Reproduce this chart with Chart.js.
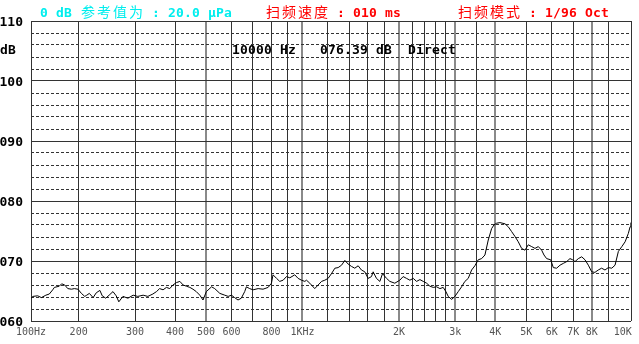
<!DOCTYPE html>
<html>
<head>
<meta charset="utf-8">
<script src="https://cdn.jsdelivr.net/npm/chart.js@4.4.1/dist/chart.umd.min.js"></script>
<style>
  html, body { margin: 0; padding: 0; background: #fff; }
  #wrap { width: 639px; height: 344px; }
</style>
</head>
<body>
<div id="wrap"><canvas id="sweepChart"></canvas></div>
<script>
// Sweep readings (Hz, dB)
const freqs = [
  142, 144, 149, 153, 158, 162, 166, 168, 174, 177, 181, 185, 190, 194, 199,
  204, 209, 212, 216, 222, 227, 233, 237, 243, 249, 256, 262, 267, 275, 285,
  296, 306, 318, 329, 341, 350, 358, 367, 376, 385, 394, 404, 414, 424, 434,
  445, 455, 466, 478, 489, 501, 520, 532, 552, 572, 586, 600, 614, 629, 644,
  660, 668, 684, 701, 727, 753, 781, 800, 809, 830, 849, 870, 891, 913, 946,
  969, 993, 1017, 1029, 1054, 1092, 1119, 1147, 1174, 1202, 1232, 1262, 1292,
  1324, 1356, 1388, 1422, 1456, 1492, 1528, 1565, 1603, 1642, 1662, 1702, 1744,
  1778, 1830, 1874, 1942, 2013, 2062, 2113, 2164, 2217, 2271, 2326, 2382, 2441,
  2499, 2560, 2623, 2686, 2750, 2804, 2851, 2922, 2992, 3064, 3139, 3214, 3292,
  3373, 3453, 3537, 3625, 3712, 3802, 3895, 3960, 4038, 4136, 4288, 4391, 4498,
  4606, 4718, 4833, 4950, 5070, 5194, 5320, 5449, 5582, 5676, 5785, 5958, 6069,
  6217, 6368, 6521, 6681, 6842, 6976, 7094, 7266, 7443, 7623, 7808, 7998, 8185,
  8384, 8590, 8800, 9014, 9238, 9460, 9690, 9932, 10170, 10410, 10540, 10600
];
const levels = [
  63.8, 64.1, 64.2, 63.9, 64.3, 64.5, 65.2, 65.6, 65.8, 66.2, 66.0, 65.4, 65.3, 65.4, 65.3,
  64.6, 64.1, 64.3, 64.6, 63.9, 64.7, 65.1, 64.2, 63.8, 64.3, 64.9, 64.2, 63.2, 64.1, 63.8,
  64.3, 64.1, 64.3, 64.1, 64.5, 64.9, 65.4, 65.2, 65.6, 65.4, 66.0, 66.4, 66.6, 66.0, 65.8,
  65.6, 65.3, 64.9, 64.3, 63.5, 64.9, 65.7, 65.4, 64.6, 64.3, 64.1, 64.3, 63.9, 63.5, 63.8,
  64.9, 65.7, 65.4, 65.2, 65.4, 65.3, 65.6, 66.3, 67.7, 67.1, 66.6, 66.8, 67.4, 67.2, 67.7,
  67.1, 66.8, 66.6, 66.8, 66.3, 65.4, 66.0, 66.6, 66.8, 67.1, 67.9, 68.8, 68.9,
  69.3, 70.1, 69.5, 69.1, 68.8, 69.2, 68.5, 68.2, 67.1, 67.4, 68.2, 67.1, 66.6,
  67.9, 67.1, 66.6, 66.3, 66.8, 67.4, 67.1, 66.8, 67.1, 66.6, 66.9, 66.6, 66.3,
  65.8, 65.6, 65.7, 65.4, 65.6, 64.9, 64.1, 63.6, 64.1, 64.9, 65.7, 66.6, 67.1,
  68.5, 69.2, 70.2, 70.4, 71.0, 73.5, 75.4, 76.0, 76.3, 76.4, 76.2, 75.7, 74.9,
  74.1, 73.2, 72.1, 71.8, 72.7, 72.4, 72.1, 72.4, 71.8, 71.0, 70.4, 70.2, 68.9,
  68.8, 69.3, 69.6, 69.9, 70.4, 70.2, 69.9, 70.4, 70.7, 70.2, 69.3, 68.2, 68.1,
  68.5, 68.8, 68.5, 68.9, 68.8, 69.3, 71.6, 72.4, 73.2, 74.6, 75.7, 76.4
];

// Vertical grid lines and their labels
const gridFreqs = [
  142, 200, 300, 400, 500, 600, 700, 800, 900, 1000, 1200, 1400, 1600, 1800,
  2000, 2200, 2400, 2600, 2800, 3000, 3500, 4000, 5000, 6000, 7000, 8000, 9000,
  10000, 10610
];
const tickLabels = {
  142: "100Hz", 200: "200", 300: "300", 400: "400", 500: "500", 600: "600",
  800: "800", 1000: "1KHz", 2000: "2K", 3000: "3k", 4000: "4K", 5000: "5K",
  6000: "6K", 7000: "7K", 8000: "8K", 10000: "10K"
};
const greyFreqs = [500, 1000, 2000, 3000, 4000, 8000];

// Header texts
const refText = "0 dB 参考值为 : 20.0 μPa";
const speedText = "扫频速度 : 010 ms";
const modeText = "扫频模式 : 1/96 Oct";
const readout = "10000 Hz   076.39 dB  Direct";

function drawCells(ctx, str, x, y, color) {
  ctx.fillStyle = color;
  ctx.textAlign = "center";
  ctx.textBaseline = "alphabetic";
  for (const ch of str) {
    const wide = /[\u3000-\u9fff]/.test(ch);
    const w = wide ? 16 : 8;
    ctx.font = wide ? '14px "Noto Sans CJK SC"' : 'bold 13px "DejaVu Sans Mono"';
    ctx.fillText(ch, x + w / 2, y);
    x += w;
  }
}

const textPlugin = {
  id: "texts",
  afterDraw(chart) {
    const ctx = chart.ctx;
    ctx.save();
    drawCells(ctx, refText, 40, 17, "#00eeee");
    drawCells(ctx, speedText, 265, 17, "#ff0000");
    drawCells(ctx, modeText, 457, 17, "#ff0000");
    drawCells(ctx, "dB", 0, 54, "#000");
    drawCells(ctx, readout, 232, 54, "#000");
    ctx.restore();
  }
};

document.addEventListener("DOMContentLoaded", () => {
  const ctx = document.getElementById("sweepChart");

  new Chart(ctx, {
    type: "line",
    data: {
      datasets: [{
        data: freqs.map((f, i) => ({ x: f, y: levels[i] })),
        borderColor: "#000",
        borderWidth: 1,
        pointRadius: 0,
        fill: false,
        tension: 0
      }]
    },
    options: {
      responsive: true,
      maintainAspectRatio: false,
      animation: false,
      layout: { padding: { top: 21, right: 8, left: 0, bottom: 0 } },
      plugins: {
        legend: { display: false },
        tooltip: { enabled: false }
      },
      scales: {
        x: {
          type: "logarithmic",
          min: 142,
          max: 10610,
          afterBuildTicks: s => { s.ticks = gridFreqs.map(v => ({ value: v })); },
          afterFit: s => { s.height = 23; },
          grid: {
            drawTicks: false,
            color: c => {
              const v = c.tick && c.tick.value;
              if (v === 10000) return "rgba(0,0,0,0)";
              return greyFreqs.includes(v) ? "#8a8a8a" : "#333";
            },
            lineWidth: c => (c.tick && greyFreqs.includes(c.tick.value)) ? 2 : 1
          },
          border: { display: false },
          ticks: {
            autoSkip: false,
            maxRotation: 0,
            padding: 5,
            color: "#555",
            font: { family: "DejaVu Sans Mono", size: 10 },
            callback: v => tickLabels[v] || ""
          }
        },
        y: {
          min: 60,
          max: 110,
          afterFit: s => { s.width = 31; },
          grid: { drawTicks: false, color: "#333", lineWidth: 1 },
          border: {
            display: false,
            dash: c => (c.tick && c.tick.value % 10 !== 0) ? [3, 2] : []
          },
          ticks: {
            stepSize: 2,
            autoSkip: false,
            padding: 8,
            labelOffset: 2,
            color: "#000",
            font: { family: "DejaVu Sans Mono", size: 13, weight: "bold" },
            callback: v => v % 10 === 0 ? String(v).padStart(3, "0") : ""
          }
        }
      }
    },
    plugins: [textPlugin]
  });
});
</script>
</body>
</html>
